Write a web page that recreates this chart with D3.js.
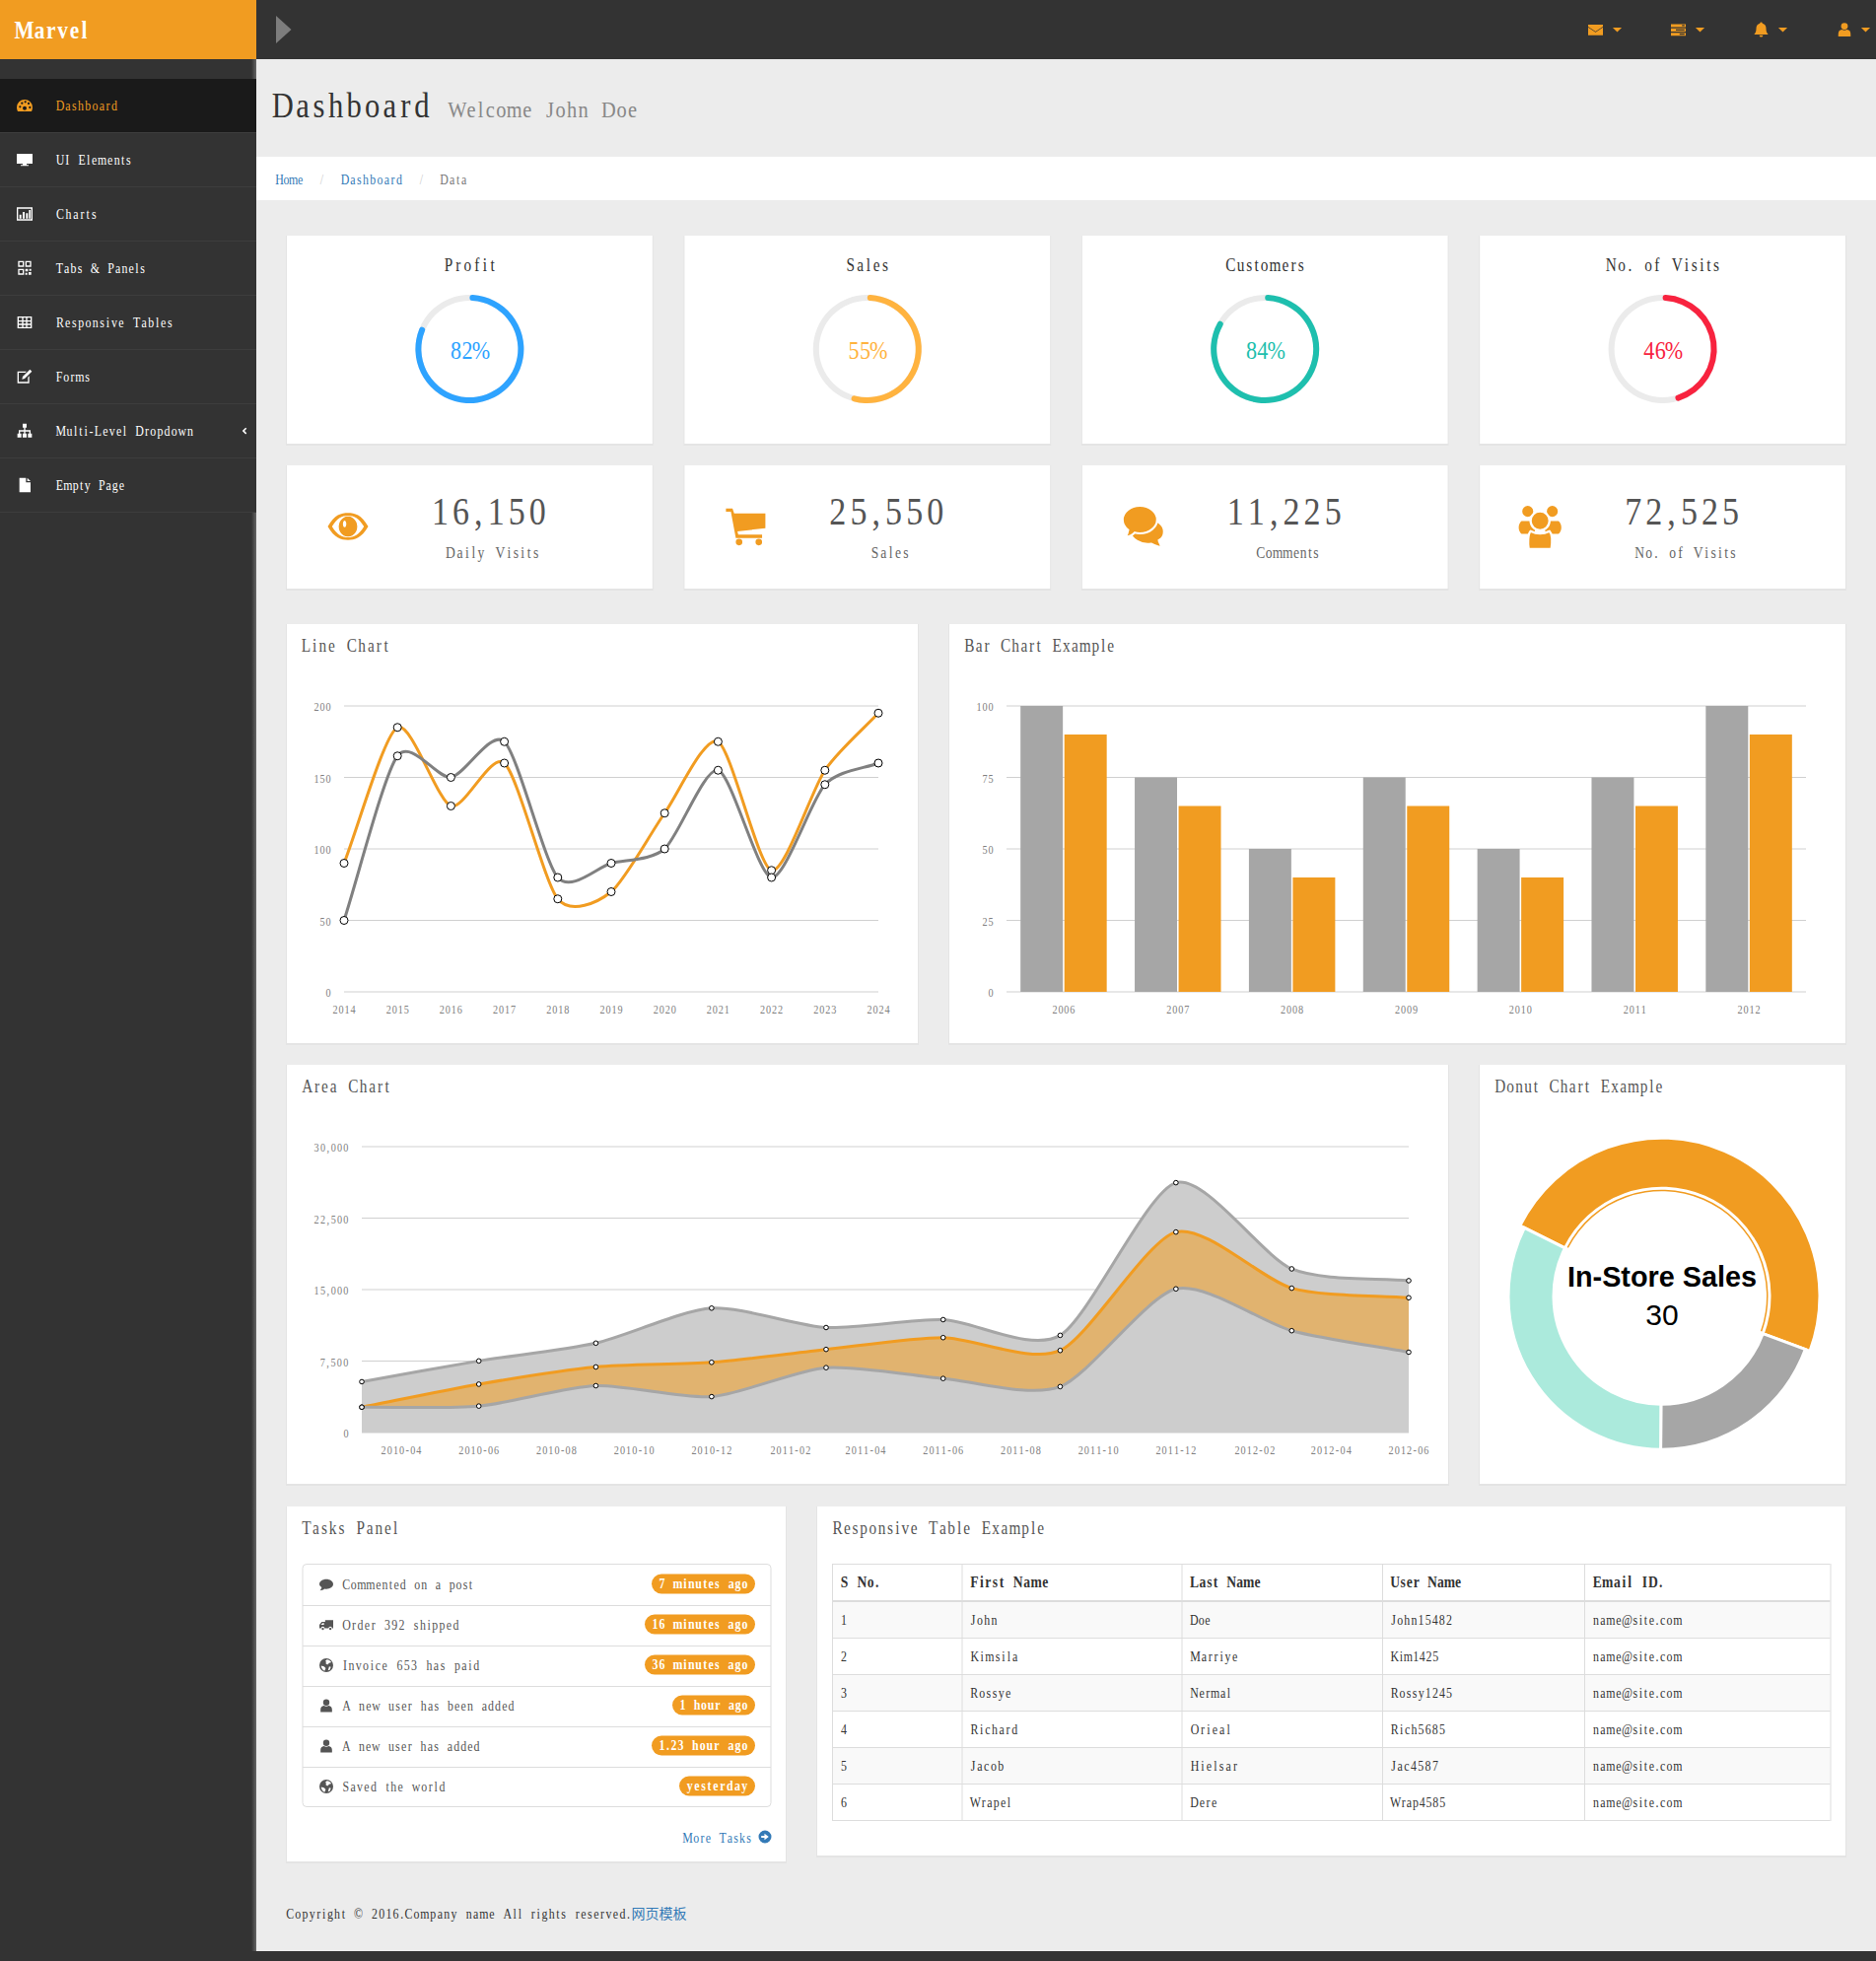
<!DOCTYPE html>
<html>
<head>
<meta charset="utf-8">
<title>Marvel</title>
<script src="https://cdn.jsdelivr.net/npm/d3@7"></script>
<style>
  html, body { margin: 0; padding: 0; background: #ececec; overflow: hidden; }
  svg { display: block; }
</style>
</head>
<body>
<div id="quadros"></div>
<script>
var width = 1903;
var height = 1989;
var svg;

var orange = '#f19c21';
var gray = '#a6a6a6';

// ---- data ----
var sideItems = ['Dashboard', 'UI Elements', 'Charts', 'Tabs & Panels', 'Responsive Tables', 'Forms', 'Multi-Level Dropdown', 'Empty Page'];
var sideIcons = ['dashboard', 'desktop', 'barchart', 'qrcode', 'table', 'edit', 'sitemap', 'file'];

var gaugeNames = ['Profit', 'Sales', 'Customers', 'No. of Visits'];
var gaugeValues = [82, 55, 84, 46];
var gaugeColors = ['#2ea3ff', '#ffb33f', '#1ebfae', '#f8233f'];

var statValues = ['16,150', '25,550', '11,225', '72,525'];
var statLabels = ['Daily Visits', 'Sales', 'Comments', 'No. of Visits'];
var statIcons = ['eye', 'cart', 'comments', 'users'];

var lineYears = [2014, 2015, 2016, 2017, 2018, 2019, 2020, 2021, 2022, 2023, 2024];
var lineOrange = [90, 185, 130, 160, 65, 70, 125, 175, 85, 155, 195];
var lineGrey = [50, 165, 150, 175, 80, 90, 100, 155, 80, 145, 160];
var lineTicks = [0, 50, 100, 150, 200];

var barYears = ['2006', '2007', '2008', '2009', '2010', '2011', '2012'];
var barGrey = [100, 75, 50, 75, 50, 75, 100];
var barOrange = [90, 65, 40, 65, 40, 65, 90];
var barTicks = [0, 25, 50, 75, 100];

var areaMonths = ['2010-03', '2010-06', '2010-09', '2010-12', '2011-03', '2011-06', '2011-09', '2011-12', '2012-03', '2012-06'];
var areaLower = [2666, 2778, 4912, 3767, 6810, 5670, 4820, 15073, 10687, 8432];
var areaMiddle = [0, 2294, 1969, 3597, 1914, 4293, 3795, 5967, 4460, 5713];
var areaUpper = [2666, 2441, 2501, 5689, 2293, 1881, 1588, 5175, 2028, 1791];
var areaTicks = [0, 7500, 15000, 22500, 30000];

var donutLabels = ['In-Store Sales', 'Download Sales', 'Mail-Order Sales'];
var donutValues = [30, 12, 20];
var donutColors = [orange, gray, '#abeadc'];

var taskTexts = ['Commented on a post', 'Order 392 shipped', 'Invoice 653 has paid', 'A new user has been added', 'A new user has added', 'Saved the world'];
var taskBadges = ['7 minutes ago', '16 minutes ago', '36 minutes ago', '1 hour ago', '1.23 hour ago', 'yesterday'];
var taskIcons = ['comment', 'truck', 'globe', 'user', 'user', 'globe'];

var tableHead = ['S No.', 'First Name', 'Last Name', 'User Name', 'Email ID.'];
var tableFirst = ['John', 'Kimsila', 'Rossye', 'Richard', 'Jacob', 'Wrapel'];
var tableLast = ['Doe', 'Marriye', 'Nermal', 'Orieal', 'Hielsar', 'Dere'];
var tableUser = ['John15482', 'Kim1425', 'Rossy1245', 'Rich5685', 'Jac4587', 'Wrap4585'];
var tableMail = 'name@site.com';

// ---- icons, 24x24 box ----
function dot(x, y, r) {
  return 'M' + (x - r) + ' ' + y + 'a' + r + ' ' + r + ' 0 1 0 ' + (2 * r) + ' 0a' + r + ' ' + r + ' 0 1 0 ' + (-2 * r) + ' 0Z';
}
var icons = {
  dashboard: ['M12 3a12 12 0 0 0-12 12c0 2 .5 4 1.5 6h21c1-2 1.5-4 1.5-6A12 12 0 0 0 12 3Z' + dot(5, 14, 1.7) + dot(8, 8.5, 1.7) + dot(13, 6.5, 1.7) + dot(18, 9, 1.7) + dot(20, 15, 1.7) + dot(12, 16, 3)],
  desktop: ['M0 3h24v15H0Z M9 18h6v2h3v1.5H6V20h3Z'],
  barchart: ['M0 2h24v20H0Z M2 4v16h20V4Z M4 13h3v6H4Z M9 9h3v10H9Z M14 11h3v8h-3Z M18.500 6h2.500v13h-2.500Z'],
  qrcode: ['M2 1h9v9H2Z M4 3v5h5V3Z M13 1h9v9h-9Z M15 3v5h5V3Z M2 13h9v9H2Z M4 15v5h5v-5Z M13 13h4v4h-4Z M19 13h3v3h-3Z M13 19h3v3h-3Z M18 18h4v4h-4Z'],
  table: ['M1 3h22v18H1Z M3 5v4h5V5Z M10 5v4h4V5Z M16 5v4h5V5Z M3 11v3h5v-3Z M10 11v3h4v-3Z M16 11v3h5v-3Z M3 16v3h5v-3Z M10 16v3h4v-3Z M16 16v3h5v-3Z'],
  edit: ['M1 4h14l-2 2H3v14h14v-7l2-2v11H1Z M20 1l3 3-11 11-4 1 1-4Z'],
  sitemap: ['M9 1h6v6h-2v4h8v5h2v6h-6v-6h2v-3h-6v3h2v6H9v-6h2v-3H5v3h2v6H1v-6h2v-5h8V7H9Z'],
  file: ['M4 1h10v7h7v15H4Z M16 1l5 5h-5Z'],
  chevron: ['M15 3l3 3-6 6 6 6-3 3-9-9Z'],
  eye: ['M0 12C4 5 8 4 12 4s8 1 12 8c-4 7-8 8-12 8S4 19 0 12Z M2.500 12c3 5 6 6.500 9.500 6.500s6.500-1.500 9.500-6.500c-3-5-6-6.500-9.500-6.500S5.500 7 2.500 12Z M12 6a5.500 6 0 1 0 .01 0Z M10 8.500a1 2 0 1 1 -.01 0Z'],
  cart: ['M0 1h4l1 3h19v9l-17 2 .5 2H22v2H6L3 3H0Z' + dot(8, 21.500, 2) + dot(20, 21.500, 2)],
  comments: ['M15 8c5 0 9 3 9 7 0 2-1 4-3 5 0 1 1 2 1.500 4-2 0-4-1-6-2-6 1-12-3-12-7 0-4 5-7 10.500-7Z', 'M10 0c5.500 0 10 3.600 10 8s-4.500 8-10 8c-1 0-2-.1-3-.4-1.500 1.500-3.500 2.400-5.500 2.400 1-1 1.500-2.500 1.700-4C1.200 12.600 0 10.400 0 8c0-4.400 4.500-8 10-8Z'],
  users: [dot(5.500, 4, 3.500) + 'M2 8.500h7c1 1 2 5 0 8H2c-2.500-2-2.500-6 0-8Z', dot(18.500, 4, 3.500) + 'M15 8.500h7c2.500 2 2.500 6 0 8h-7c-2-3-1-7 0-8Z', dot(12, 9, 5) + 'M7 14.500c3 1.500 7 1.500 10 0 1.500 1.500 1.500 6 1 9.500H6c-.5-3-.5-8 1-9.500Z'],
  comment: ['M12 3c6.600 0 12 3.800 12 8.500S18.600 20 12 20c-1 0-2-.1-3-.3C7 21.500 4 22.500 1 22.500c1.500-1.500 2.700-3.500 3-5.300C1.600 15.700 0 13.700 0 11.500 0 6.800 5.400 3 12 3Z'],
  truck: ['M10 4h14v14h-2a3 3 0 0 0-6 0H9a3 3 0 0 0-6 0H0v-6l4-5h6Z M2.500 12l3-3H8v3Z' + dot(6, 19, 2) + dot(19, 19, 2)],
  globe: [dot(12, 12, 12) + 'M13 2c3 0 6 2 8 5l-4 1-3 3-3-2 1-3-2-1Z M3 13l5 1 3 3-2 5c-3-1-6-5-6-9Z M17 14l3 1-2 5-3 1Z'],
  user: [dot(12, 6.500, 5.500) + 'M2 23v-4c0-4 2-6.500 6-7 2 1.500 6 1.500 8 0 4 .5 6 3 6 7v4Z'],
  envelope: ['M0 4h24v17H0Z M0 7l12 8 12-8v1.500l-12 8-12-8Z'],
  tasks: ['M0 3h24v5H0Z M18 4.500v2h4v-2Z M0 10h24v5H0Z M8 11.500v2h14v-2Z M0 17h24v5H0Z M14 18.500v2h8v-2Z'],
  bell: ['M12 0a2 2 0 0 1 2 2c4 1 6 4 6 8 0 5 1 7 3 9v1H1v-1c2-2 3-4 3-9 0-4 2-7 6-8a2 2 0 0 1 2-2Z M9 21h6a3 3 0 0 1-6 0Z'],
  caret: ['M1 7h22L12 18Z'],
  more: [dot(12, 12, 12) + 'M5 10h6V6l8 6-8 6v-4H5Z']
};

function icon(name, x, y, w, color, outline) {
  var k = w / 24;
  var g = svg.append('g').attr('transform', 'translate(' + (x - w / 2) + ',' + (y - w / 2) + ') scale(' + k + ')');
  icons[name].forEach(function (d) {
    g.append('path')
      .attr('d', d)
      .attr('fill', color)
      .attr('fill-rule', 'evenodd')
      .attr('stroke', outline || 'none')
      .attr('stroke-width', outline ? 1.2 : 0);
  });
}

// the original font has half-em cells: squeeze a serif and give each glyph a cell
// between its own width and the fixed one, keeping the total length of the string
var squeeze = 0.85;
var ruler = document.createElement('canvas').getContext('2d');

function cells(text, size, anchor, bold, shift) {
  var adv = size / 2 / squeeze;
  var total = text.length * adv;
  var left = (shift || 0) / squeeze + (anchor == 'middle' ? -total / 2 : anchor == 'end' ? -total : 0);
  ruler.font = (bold ? 'bold ' : '') + size + 'px "Liberation Serif"';
  var chars = text.split('');
  var glyphs = chars.map(function (c) { return ruler.measureText(c).width; });
  var wide = chars.map(function (c, i) { return c == ' ' ? adv : adv * 0.35 + glyphs[i] * 0.65; });
  var fit = total / d3.sum(wide);
  var pos = left;
  return chars.map(function (c, i) {
    var cell = wide[i] * fit;
    var at = pos + (cell - glyphs[i]) / 2;
    pos += cell;
    return at.toFixed(2);
  }).join(' ');
}

function print(text, x, y, size, color, anchor, bold) {
  return svg.append('text')
    .attr('transform', 'translate(' + x + ',' + y + ') scale(' + squeeze + ',1)')
    .attr('x', cells(text, size, anchor, bold))
    .attr('dy', '0.33em')
    .style('font-family', '"Liberation Serif"')
    .style('font-size', size + 'px')
    .style('font-weight', bold ? 'bold' : 'normal')
    .style('fill', color)
    .text(text);
}

function rect(x, y, w, h, color) {
  return svg.append('rect').attr('x', x).attr('y', y).attr('width', w).attr('height', h).attr('fill', color);
}

function card(x, y, w, h) {
  rect(x - 1, y, w + 2, h + 2, '#e4e4e4');
  rect(x, y, w, h, '#ffffff');
}

function styleAxis(g, anchor, shift) {
  g.select('.domain').remove();
  g.selectAll('line').attr('stroke', '#d0d0d0');
  g.selectAll('text')
    .attr('transform', 'scale(' + squeeze + ',1)')
    .attr('x', function () { return cells(this.textContent, 12, anchor, false, shift); })
    .attr('dy', anchor == 'end' ? '0.42em' : '0.83em')
    .style('text-anchor', 'start')
    .style('font-family', '"Liberation Serif"')
    .style('font-size', '12px')
    .style('fill', '#808080');
}

// same spline the original chart draws: tangents from neighbours, handles at a quarter of the step
function splineCurve(context) {
  var pts;
  return {
    lineStart: function () { pts = []; },
    point: function (x, y) { pts.push([x, y]); },
    lineEnd: function () {
      var n = pts.length;
      var grads = pts.map(function (p, i) {
        var a = pts[Math.max(i - 1, 0)], b = pts[Math.min(i + 1, n - 1)];
        return (b[1] - a[1]) / (b[0] - a[0]);
      });
      context.moveTo(pts[0][0], pts[0][1]);
      for (var i = 1; i < n; i++) {
        var ix = (pts[i][0] - pts[i - 1][0]) / 4;
        context.bezierCurveTo(pts[i - 1][0] + ix, pts[i - 1][1] + ix * grads[i - 1],
                              pts[i][0] - ix, pts[i][1] - ix * grads[i],
                              pts[i][0], pts[i][1]);
      }
    }
  };
}

function drawChrome() {
  var defs = svg.append('defs');
  var fade = defs.append('linearGradient').attr('id', 'edge');
  fade.append('stop').attr('offset', '0%').attr('stop-color', '#333333');
  fade.append('stop').attr('offset', '100%').attr('stop-color', '#666666');

  rect(0, 0, width, height, '#ececec');
  rect(0, 0, 260, height, '#333333');
  rect(255, 60, 5, 20, 'url(#edge)');
  rect(255, 520, 5, height - 520, 'url(#edge)');
  rect(260, 0, width - 260, 60, '#333333');
  rect(0, 0, 260, 60, orange);
  rect(0, 1979, width, 10, '#333333');
  print('Marvel', 15, 31, 25, '#ffffff', 'start', true);
  svg.append('path').attr('d', 'M280 16l15.500 14L280 44Z').attr('fill', '#7d7d7d');

  var tops = [[1618.5, 'envelope', 1640.5], [1702.5, 'tasks', 1724.5], [1786.5, 'bell', 1808.5], [1871, 'user', 1892.5]];
  tops.forEach(function (t) {
    icon(t[1], t[0], 30, 15, orange);
    icon('caret', t[2], 30, 10, orange);
  });

  // sidebar
  sideItems.forEach(function (name, i) {
    var top = 80 + 55 * i;
    if (i == 0) rect(0, top, 260, 54, '#1a1a1a');
    rect(0, top + 54, 260, 1, '#3d3d3d');
    icon(sideIcons[i], 25, top + 27, 16, i == 0 ? orange : '#ffffff');
    print(name, 56.5, top + 27.5, 14, i == 0 ? orange : '#ffffff');
  });
  icon('chevron', 248, 437, 9, '#ffffff');

  print('Dashboard', 275, 107, 36, '#333333');
  print('Welcome John Doe', 455, 111, 24, '#888888');
  rect(260, 159, width - 260, 44, '#ffffff');
  print('Home', 279.500, 182, 14, '#337ab7');
  print('/', 323, 182, 14, '#cccccc');
  print('Dashboard', 345.500, 182, 14, '#337ab7');
  print('/', 424, 182, 14, '#cccccc');
  print('Data', 446, 182, 14, '#777777');

  print('Copyright \u00a9 2016.Company name All rights reserved.', 290, 1941, 14, '#333333');
  svg.append('text')
    .attr('x', 640.500).attr('y', 1946)
    .style('font-family', '"Noto Sans CJK SC"')
    .style('font-size', '14px')
    .style('fill', '#337ab7')
    .text('\u7f51\u9875\u6a21\u677f');
}

function drawGauges() {
  var cards = d3.scaleBand().domain(d3.range(4)).range([291, 1872]).paddingInner(0.0808);
  var arc = d3.arc().innerRadius(49).outerRadius(55).cornerRadius(3).startAngle(0);
  var turn = d3.scaleLinear().domain([0, 100]).range([0, 2 * Math.PI]);

  gaugeNames.forEach(function (name, i) {
    var x = cards(i), w = cards.bandwidth(), cx = x + w / 2;
    card(x, 239, w, 211);
    print(name, cx, 269, 18, '#333333', 'middle');
    var g = svg.append('g').attr('transform', 'translate(' + cx + ',354)');
    g.append('path').attr('d', arc.endAngle(2 * Math.PI)()).attr('fill', '#ebebeb');
    g.append('path').attr('d', arc.endAngle(turn(gaugeValues[i]))()).attr('fill', gaugeColors[i]);
    print(gaugeValues[i] + '%', cx, 355, 26, gaugeColors[i], 'middle');

    card(x, 472, w, 125);
    var iconW = [41, 40, 42, 46][i];
    icon(statIcons[i], x + [62, 62, 62, 61][i], 534, iconW, orange, statIcons[i] == 'comments' || statIcons[i] == 'users' ? '#ffffff' : null);
    print(statValues[i], cx + 19.500, 519, 40, '#555555', 'middle');
    print(statLabels[i], cx + 23, 561, 16, '#666666', 'middle');
  });
}

function drawLineChart() {
  card(291, 633, 640, 425);
  print('Line Chart', 305, 655, 18, '#555555');

  var x = d3.scalePoint().domain(lineYears).range([349, 891]);
  var y = d3.scaleLinear().domain([0, 200]).range([1006, 716]);

  svg.append('g').attr('transform', 'translate(349,0)')
    .call(d3.axisLeft(y).tickValues(lineTicks).tickSize(-542).offset(0))
    .call(styleAxis, 'end', -13);
  svg.append('g').attr('transform', 'translate(0,1006)')
    .call(d3.axisBottom(x).tickSize(0).tickPadding(12).offset(0))
    .call(function (g) { styleAxis(g, 'middle', 0); g.selectAll('line').remove(); });

  var line = d3.line()
    .x(function (d, i) { return x(lineYears[i]); })
    .y(function (d) { return y(d); })
    .curve(splineCurve);

  [[lineOrange, orange], [lineGrey, '#808080']].forEach(function (s) {
    svg.append('path').attr('d', line(s[0])).attr('fill', 'none').attr('stroke', s[1]).attr('stroke-width', 3);
  });
  [lineOrange, lineGrey].forEach(function (values) {
    svg.append('g').selectAll('circle').data(values).join('circle')
      .attr('cx', function (d, i) { return x(lineYears[i]); })
      .attr('cy', function (d) { return y(d); })
      .attr('r', 4)
      .attr('fill', '#ffffff')
      .attr('stroke', '#000000');
  });
}

function drawBarChart() {
  card(963, 633, 909, 425);
  print('Bar Chart Example', 978, 655, 18, '#555555');

  var x = d3.scaleBand().domain(barYears).range([1021, 1832]).paddingInner(0.245).paddingOuter(0.1225);
  var inner = d3.scaleBand().domain([0, 1]).range([0, x.bandwidth()]).paddingInner(0.035);
  var y = d3.scaleLinear().domain([0, 100]).range([1006, 716]);

  svg.append('g').attr('transform', 'translate(1021,0)')
    .call(d3.axisLeft(y).tickValues(barTicks).tickSize(-811).offset(0))
    .call(styleAxis, 'end', -13);
  svg.append('g').attr('transform', 'translate(0,1006)')
    .call(d3.axisBottom(x).tickSize(0).tickPadding(12).offset(0))
    .call(function (g) { styleAxis(g, 'middle', 0); g.selectAll('line').remove(); });

  [[barGrey, gray], [barOrange, orange]].forEach(function (s, k) {
    svg.append('g').selectAll('rect').data(s[0]).join('rect')
      .attr('x', function (d, i) { return x(barYears[i]) + inner(k); })
      .attr('y', function (d) { return y(d); })
      .attr('width', inner.bandwidth())
      .attr('height', function (d) { return y(0) - y(d); })
      .attr('fill', s[1]);
  });
}

function drawAreaChart() {
  card(291, 1080, 1178, 425);
  print('Area Chart', 306, 1102, 18, '#555555');

  var parse = d3.timeParse('%Y-%m');
  var dates = areaMonths.map(parse);
  var x = d3.scaleTime().domain(d3.extent(dates)).range([367, 1429]);
  var y = d3.scaleLinear().domain([0, 30000]).range([1453, 1163]);

  svg.append('g').attr('transform', 'translate(367,0)')
    .call(d3.axisLeft(y).tickValues(areaTicks).tickFormat(d3.format(',')).tickSize(-1062).offset(0))
    .call(styleAxis, 'end', -13);
  svg.append('g').attr('transform', 'translate(0,1453)')
    .call(d3.axisBottom(x)
      .tickValues(d3.timeMonth.range(parse('2010-04'), parse('2012-07'), 2))
      .tickFormat(d3.timeFormat('%Y-%m'))
      .tickSize(0).tickPadding(12).offset(0))
    .call(function (g) { styleAxis(g, 'middle', 0); g.selectAll('line').remove(); });

  var lower = areaLower;
  var middle = areaLower.map(function (d, i) { return d + areaMiddle[i]; });
  var upper = middle.map(function (d, i) { return d + areaUpper[i]; });

  var line = d3.line()
    .x(function (d, i) { return x(dates[i]); })
    .y(function (d) { return y(d); })
    .curve(splineCurve);
  var closing = 'L' + x.range()[1] + ',' + y(0) + 'L' + x.range()[0] + ',' + y(0) + 'Z';

  var layers = [[upper, '#cdcdcd', gray], [middle, '#e1b36f', orange], [lower, '#cdcdcd', gray]];
  layers.forEach(function (s) {
    svg.append('path').attr('d', line(s[0]) + closing).attr('fill', s[1]);
  });
  layers.forEach(function (s) {
    svg.append('path').attr('d', line(s[0])).attr('fill', 'none').attr('stroke', s[2]).attr('stroke-width', 3);
  });
  layers.forEach(function (s) {
    svg.append('g').selectAll('circle').data(s[0]).join('circle')
      .attr('cx', function (d, i) { return x(dates[i]); })
      .attr('cy', function (d) { return y(d); })
      .attr('r', 2.300)
      .attr('fill', '#ffffff')
      .attr('stroke', '#000000');
  });
}

function drawDonut() {
  card(1501, 1080, 371, 425);
  print('Donut Chart Example', 1516, 1102, 18, '#555555');

  var start = -63.5 * Math.PI / 180;
  var slices = d3.pie().sort(null).padAngle(0.016).startAngle(start).endAngle(start + 2 * Math.PI)(donutValues);
  var arc = d3.arc()
    .padAngle(0)
    .innerRadius(109.500)
    .outerRadius(function (d) { return d.index == 0 ? 160.500 : 155.500; });
  var hilight = d3.arc().innerRadius(106.500).outerRadius(108);

  var g = svg.append('g').attr('transform', 'translate(1685.500,1314.700)');
  g.selectAll('path.slice').data(slices).join('path')
    .attr('class', 'slice')
    .attr('d', arc)
    .attr('fill', function (d) { return donutColors[d.index]; })
    .attr('stroke', '#ffffff')
    .attr('stroke-width', 3);
  g.append('path')
    .attr('d', hilight({ startAngle: slices[0].startAngle + 0.015, endAngle: slices[0].endAngle - 0.015 }))
    .attr('fill', orange);

  svg.append('text').attr('x', 1686).attr('y', 1305)
    .style('font-family', '"Liberation Sans"').style('font-size', '28.800px').style('font-weight', 'bold')
    .style('text-anchor', 'middle').style('fill', '#000000')
    .text(donutLabels[0]);
  svg.append('text').attr('x', 1686).attr('y', 1344)
    .style('font-family', '"Liberation Sans"').style('font-size', '30px')
    .style('text-anchor', 'middle').style('fill', '#000000')
    .text(donutValues[0]);
}

function drawTasks() {
  card(291, 1528, 506, 360);
  print('Tasks Panel', 305.500, 1550, 18, '#555555');

  var y = d3.scaleBand().domain(d3.range(taskTexts.length)).range([1586.500, 1832.500]);
  svg.append('rect').attr('x', 307).attr('y', 1586.500).attr('width', 475).attr('height', 246).attr('rx', 4)
    .attr('fill', 'none').attr('stroke', '#dddddd');

  taskTexts.forEach(function (t, i) {
    var cy = y(i) + y.bandwidth() / 2;
    if (i > 0) rect(307, Math.round(y(i)), 475, 1, '#dddddd');
    icon(taskIcons[i], 331, cy, 14, '#555555');
    print(t, 347, cy + 0.500, 14, '#555555');
    var w = taskBadges[i].length * 7 + 14;
    svg.append('rect').attr('x', 766 - w).attr('y', cy - 10.500).attr('width', w).attr('height', 20).attr('rx', 10).attr('fill', orange);
    print(taskBadges[i], 773 - w, cy - 0.500, 14, '#ffffff', 'start', true);
  });

  print('More Tasks', 692.500, 1864, 14, '#337ab7');
  icon('more', 776, 1863, 13, '#337ab7');
}

function drawTable() {
  card(829, 1528, 1043, 354);
  print('Responsive Table Example', 844, 1550, 18, '#555555');

  var columns = [844, 975.500, 1198.500, 1402, 1607, 1856.500];
  var rowTop = 1625;
  var rowH = 37;
  var rows = tableFirst.map(function (d, i) {
    return [String(i + 1), d, tableLast[i], tableUser[i], tableMail];
  });

  var last = rowTop + rowH * rows.length;
  rows.forEach(function (r, i) {
    if (i % 2 == 0) rect(844, rowTop + rowH * i, 1012.500, rowH, '#f9f9f9');
    rect(844, rowTop + rowH * (i + 1) - 1, 1012.500, 1, '#dddddd');
    r.forEach(function (cell, c) {
      print(cell, columns[c] + 8.500, rowTop + rowH * i + 18, 14, '#333333');
    });
  });
  rect(844, 1586, 1012.500, 1, '#dddddd');
  rect(844, 1623, 1012.500, 2, '#dddddd');
  columns.forEach(function (c) {
    rect(c, 1586, 1, last - 1586, '#dddddd');
  });
  tableHead.forEach(function (h, c) {
    print(h, columns[c] + 8.500, 1605, 16, '#333333', 'start', true);
  });
}

function init() {
  svg = d3.select(document.getElementById('quadros')).append('svg')
    .attr('width', width)
    .attr('height', height);
  drawChrome();
  drawGauges();
  drawLineChart();
  drawBarChart();
  drawAreaChart();
  drawDonut();
  drawTasks();
  drawTable();
}

init();
</script>
</body>
</html>
